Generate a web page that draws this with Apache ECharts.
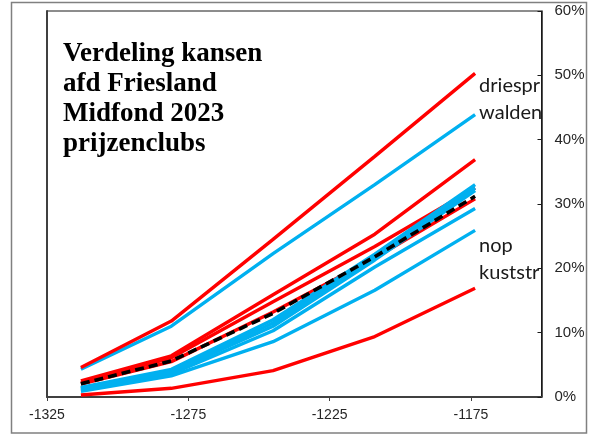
<!DOCTYPE html>
<html><head><meta charset="utf-8">
<script src="https://cdn.jsdelivr.net/npm/echarts@6/dist/echarts.min.js"></script>
<style>html,body{margin:0;padding:0;background:#fff}#c{width:593px;height:436px}</style>
</head><body><div id="c"></div>
<script>
// x positions of the five points
const xValues = [-1313, -1281, -1245, -1209, -1173.5];
// tick labels
const xTicks = [-1325, -1275, -1225, -1175];
const yTicks = [0, 10, 20, 30, 40, 50, 60];
// series values (percent)
const redDriespr = [4.6, 11.8, 24.5, 37.4, 50.3];
const blueWalden = [4.3, 11.0, 22.3, 33.0, 43.9];
const red2 = [2.5, 6.4, 15.9, 25.3, 36.9];
const red3 = [2.2, 6.1, 14.8, 23.4, 32.5];
const red4 = [2.0, 5.5, 13.2, 21.6, 30.8];
const blue2 = [1.5, 4.3, 12.0, 22.2, 33.0];
const blue3 = [1.4, 4.1, 11.5, 21.8, 32.5];
const blue4 = [1.3, 3.9, 11.0, 21.3, 32.1];
const blue5 = [1.1, 3.6, 10.3, 20.2, 29.3];
const blueNop = [0.9, 3.3, 8.6, 16.6, 25.9];
const redKuststr = [0.3, 1.35, 4.1, 9.4, 16.9];
const average = [2.05, 5.6, 13.0, 21.8, 31.2];
const titleLines = ['Verdeling kansen', 'afd Friesland', 'Midfond 2023', 'prijzenclubs'];

const RED = '#FF0000', BLUE = '#00B0F0';
function mk(name, vals, color, lbl, dy, extra) {
  const data = vals.map((v, i) => [xValues[i], v / 100]);
  const s = {
    name, type: 'line', data, showSymbol: false, symbol: 'none', smooth: false,
    lineStyle: {color, width: 3.4}, itemStyle: {color}, silent: true, yAxisIndex: 0
  };
  if (lbl) {
    s.endLabel = {show: true, formatter: lbl, distance: 4, offset: [0, dy],
      fontFamily: 'Lato', fontSize: 20, color: '#1a1a1a'};
  }
  return Object.assign(s, extra || {});
}

const series = [
  mk('blue5', blue5, BLUE),
  mk('nop', blueNop, BLUE, 'nop', 15.5),
  mk('red2', red2, RED),
  mk('red3', red3, RED),
  mk('red4', red4, RED),
  mk('blue2', blue2, BLUE),
  mk('blue3', blue3, BLUE),
  mk('blue4', blue4, BLUE),
  mk('walden', blueWalden, BLUE, 'walden', -2),
  mk('driespr', redDriespr, RED, 'driespr', 12),
  mk('kuststr', redKuststr, RED, 'kuststr', -16),
  mk('gemiddeld', average, '#000', null, 0, {lineStyle: {color: '#000', width: 3.6, type: [9, 5]}})
];

const chart = echarts.init(document.getElementById('c'), null, {renderer: 'canvas'});
chart.setOption({
  animation: false,
  backgroundColor: '#fff',
  title: {
    text: titleLines.join('\n'), left: 63, top: 39, padding: 0,
    textStyle: {fontFamily: 'Liberation Serif', fontWeight: 'bold', fontSize: 27, lineHeight: 30, color: '#000'}
  },
  grid: {left: 47, right: 51.5, top: 11, bottom: 39, show: true, borderColor: '#1a1a1a', borderWidth: 1, containLabel: false},
  xAxis: {
    type: 'value', min: -1325, max: -1150, interval: 50,
    splitLine: {show: false},
    axisLine: {show: true, onZero: false, lineStyle: {color: '#404040', width: 2}},
    axisTick: {show: true, length: 4, customValues: xTicks, lineStyle: {color: '#404040', width: 1}},
    axisLabel: {customValues: xTicks, formatter: v => String(v), fontFamily: 'Liberation Sans', fontSize: 14, color: '#262626', margin: 11}
  },
  yAxis: [{
    type: 'value', position: 'right', min: 0, max: 0.6, interval: 0.1,
    splitLine: {show: false},
    axisLine: {show: true, lineStyle: {color: '#1a1a1a', width: 1.5}},
    axisTick: {show: true, inside: true, length: 4, lineStyle: {color: '#1a1a1a'}},
    axisLabel: {formatter: v => Math.round(v * 100) + '%', fontFamily: 'Liberation Sans', fontSize: 15, color: '#262626', margin: 13}
  }, {
    type: 'value', position: 'left', min: 0, max: 0.6, interval: 0.1,
    splitLine: {show: false},
    axisLine: {show: true, lineStyle: {color: '#404040', width: 2}},
    axisTick: {show: false}, axisLabel: {show: false}
  }],
  graphic: [{
    type: 'rect', shape: {x: 11.5, y: 2.5, width: 575, height: 430.5},
    style: {fill: 'none', stroke: '#808080', lineWidth: 1.5}, silent: true, z: 100
  }],
  series
});
</script>
</body></html>
